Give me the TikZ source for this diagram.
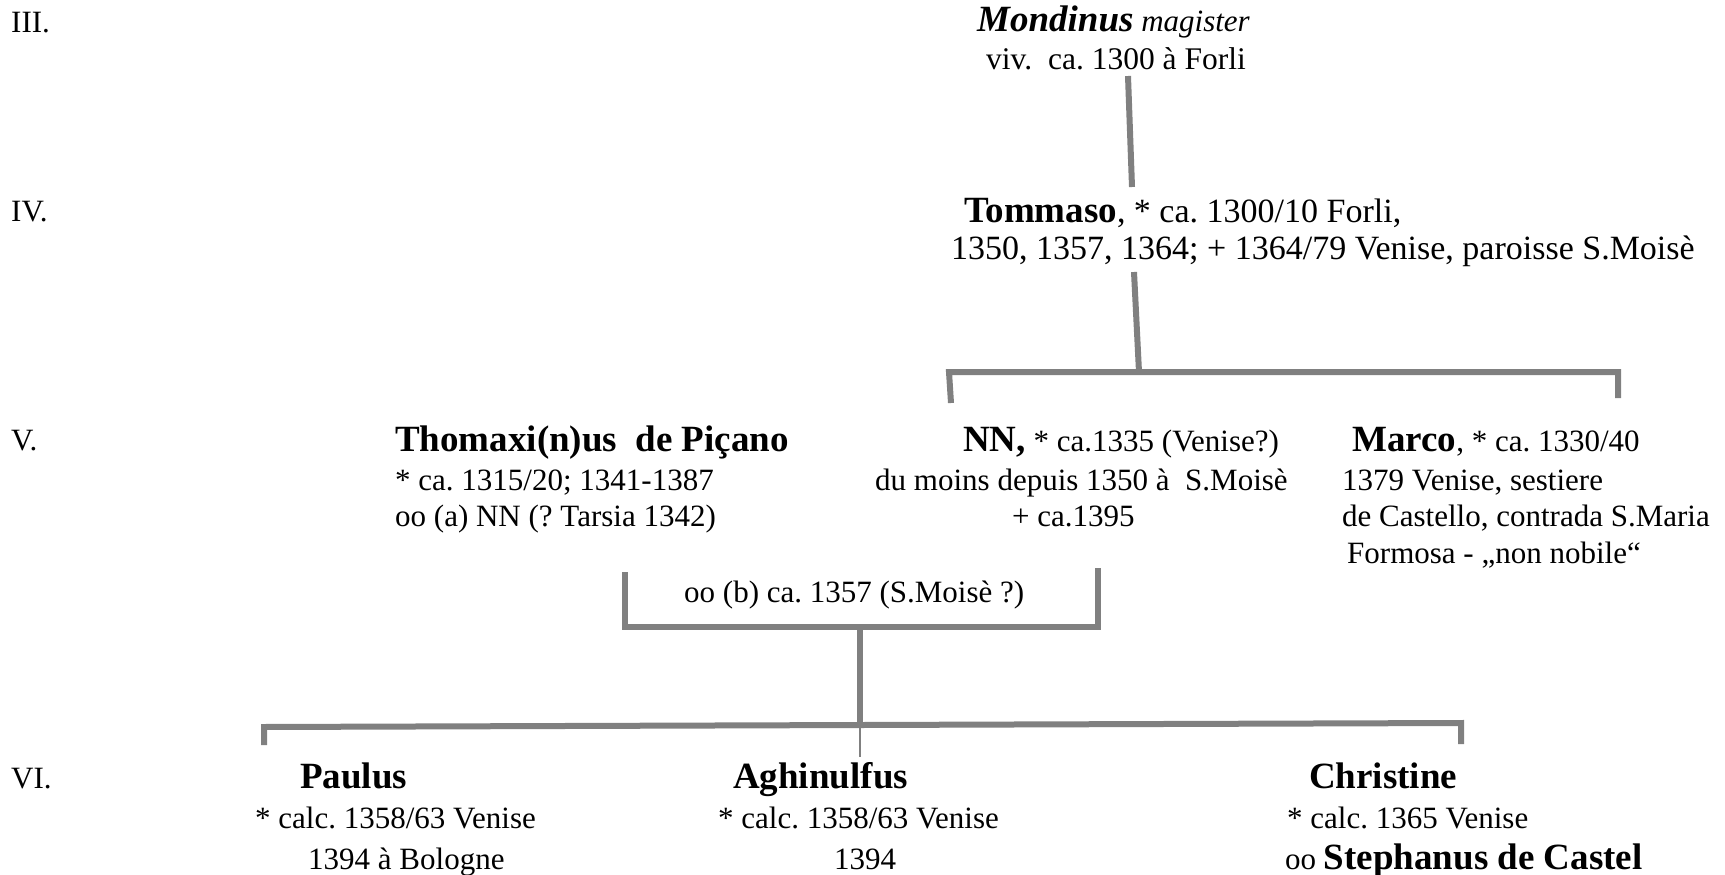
\documentclass[tikz,border=0pt]{standalone}
\usepackage{fontspec}
\setmainfont{Liberation Serif}
\frenchspacing
\newcommand{\nmbold}[1]{{\fontsize{37}{40}\selectfont\bfseries #1}}
\newcommand{\nmbi}[1]{{\fontsize{37}{40}\selectfont\bfseries\itshape #1}}
\begin{document}
\begin{tikzpicture}[x=1pt,y=-1pt,
  txt/.style={anchor=base west,inner sep=0pt,font=\fontsize{31}{36}\selectfont\frenchspacing},
  bigtxt/.style={txt,font=\fontsize{34}{38}\selectfont\frenchspacing},
  link/.style={draw=black!50,line width=6pt},
  thinlink/.style={draw=black!50,line width=1.2pt}]
\useasboundingbox (0,0) rectangle (1725,875);

% generation numerals
\node[txt] (r3) at (11,33) {III.};
\node[txt] (r4) at (11,221) {IV.};
\node[txt] (r5) at (11,450) {V.};
\node[txt] (r6) at (11,788) {VI.};

% III
\node[txt] (mond1) at (977,32) {\nmbi{Mondinus} \textit{magister}};
\node[txt,font=\fontsize{31.5}{36}\selectfont\frenchspacing] (mond2) at (986,70) {viv.\ \ ca. 1300 à Forli};

% IV
\node[bigtxt] (tom1) at (964,222) {\nmbold{Tommaso}, * ca. 1300/10 Forli,};
\node[bigtxt] (tom2) at (951,259) {1350, 1357, 1364; + 1364/79 Venise, paroisse S.Moisè};

% V
\node[txt] (tho1) at (395,451) {\nmbold{Thomaxi(n)us\ \ de Piçano}};
\node[txt] (tho2) at (395,490) {* ca. 1315/20; 1341-1387};
\node[txt] (tho3) at (395,526) {oo (a) NN (? Tarsia 1342)};

\node[txt] (nn1) at (963,451) {\nmbold{NN,} * ca.1335 (Venise?)};
\node[txt] (nn2) at (875,490) {du moins depuis 1350 à\ \ S.Moisè};
\node[txt] (nn3) at (1012,526) {+ ca.1395};

\node[txt] (mar1) at (1352,451) {\nmbold{Marco}, * ca. 1330/40};
\node[txt] (mar2) at (1342,490) {1379 Venise, sestiere};
\node[txt] (mar3) at (1342,526) {de Castello, contrada S.Maria};
\node[txt] (mar4) at (1347,563) {Formosa - „non nobile“};

\node[txt] (marr) at (684,602) {oo (b) ca. 1357 (S.Moisè ?)};

% VI
\node[txt] (pau1) at (300,788) {\nmbold{Paulus}};
\node[txt] (pau2) at (255,828) {* calc. 1358/63 Venise};
\node[txt] (pau3) at (308,869) {1394 à Bologne};

\node[txt] (agh1) at (733,788) {\nmbold{Aghinulfus}};
\node[txt] (agh2) at (718,828) {* calc. 1358/63 Venise};
\node[txt] (agh3) at (834,869) {1394};

\node[txt] (chr1) at (1309,788) {\nmbold{Christine}};
\node[txt] (chr2) at (1287,828) {* calc. 1365 Venise};
\node[txt] (chr3) at (1285,869) {oo \nmbold{Stephanus de Castel}};

% connector points
\coordinate (a1) at (1128,76);
\coordinate (a2) at (1132,187);
\coordinate (b1) at (1134,272);
\coordinate (b2) at (1139,372);
\coordinate (vL) at (951,403);
\coordinate (vLt) at (949,372);
\coordinate (vRt) at (1618,372);
\coordinate (vR) at (1618,398);
\coordinate (mL) at (625,572);
\coordinate (mLb) at (625,627);
\coordinate (mRb) at (1098,627);
\coordinate (mR) at (1098,568);
\coordinate (mC) at (860,627);
\coordinate (cC) at (860,725);
\coordinate (cL) at (264,745);
\coordinate (cLt) at (264,727);
\coordinate (cRt) at (1461,723);
\coordinate (cR) at (1461,744);
\coordinate (cT) at (860,757);

\draw[link] (a1) -- (a2);
\draw[link] (b1) -- (b2);
\draw[link] (vL) -- (vLt) -- (vRt) -- (vR);
\draw[link] (mL) -- (mLb) -- (mRb) -- (mR);
\draw[link] (mC) -- (cC);
\draw[link] (cL) -- (cLt) -- (cRt) -- (cR);
\draw[thinlink] (cC) -- (cT);
\end{tikzpicture}
\end{document}
